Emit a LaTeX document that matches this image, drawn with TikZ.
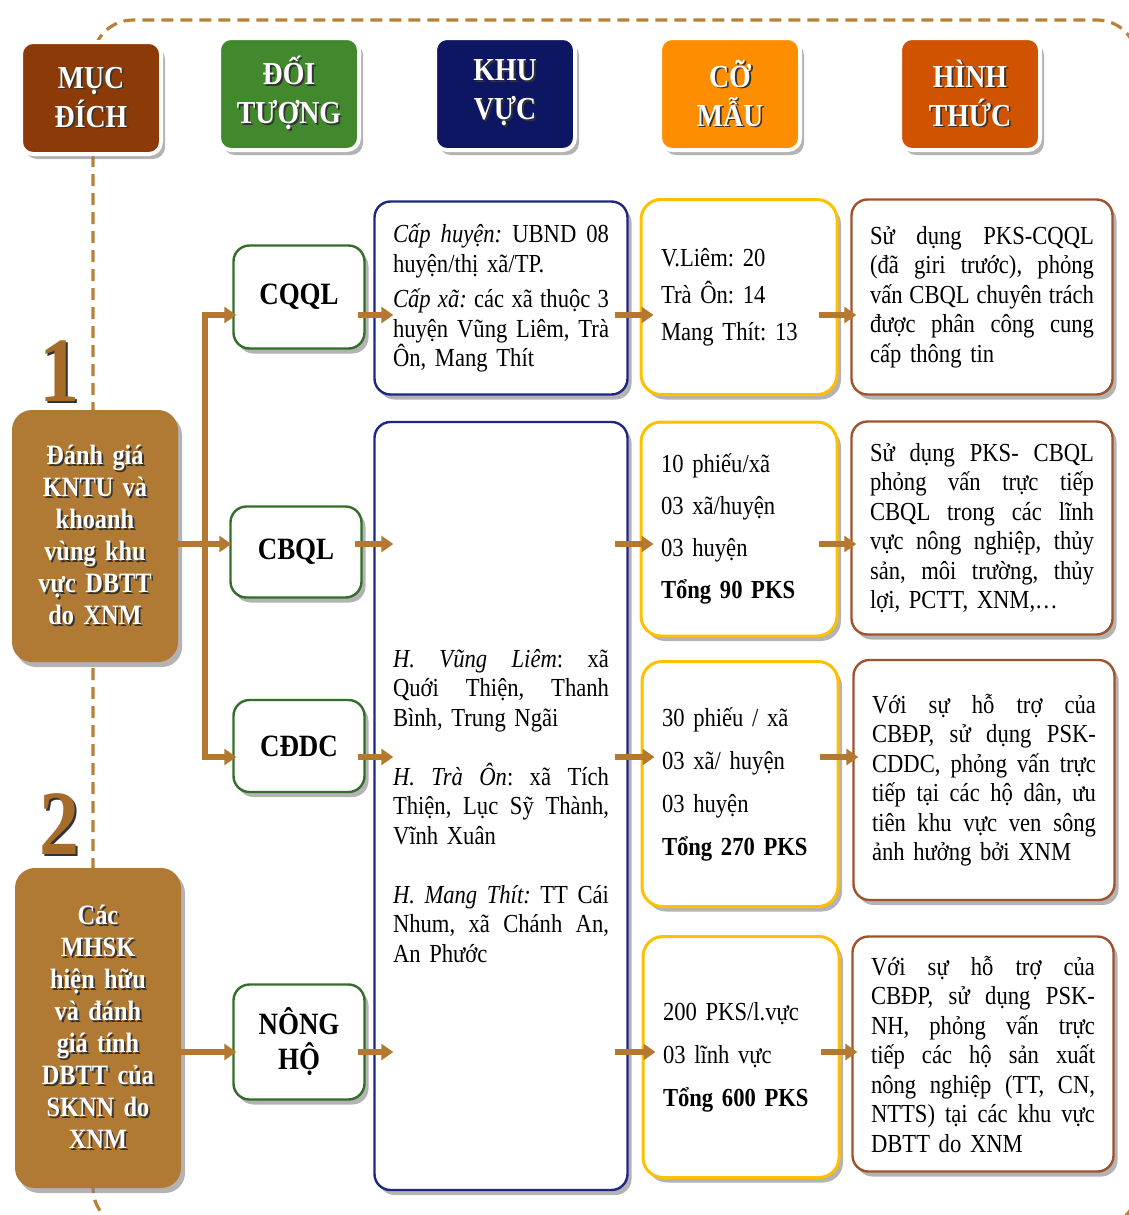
\documentclass[tikz,border=0pt]{standalone}
\usepackage{fontspec}
\setmainfont{Liberation Serif}[FakeStretch=0.87]
\usepackage{tikz}
\usetikzlibrary{positioning,shadows,arrows.meta}

\definecolor{mucc}{RGB}{140,58,8}
\definecolor{doic}{RGB}{66,137,46}
\definecolor{khuc}{RGB}{12,22,98}
\definecolor{coc}{RGB}{255,141,0}
\definecolor{hinhc}{RGB}{207,83,0}
\definecolor{goalc}{RGB}{176,121,52}
\definecolor{numc}{RGB}{165,108,42}
\definecolor{flowc}{RGB}{180,120,48}
\definecolor{framec}{RGB}{185,128,55}
\definecolor{objc}{RGB}{50,110,40}
\definecolor{regc}{RGB}{30,40,130}
\definecolor{sampc}{RGB}{255,192,0}
\definecolor{methc}{RGB}{160,82,45}

% justified line, white text with a dark shadow
\newcommand{\jl}[2][112pt]{\leavevmode\hbox to #1{\spaceskip=0.22em plus 1fil minus 0.04em\relax #2}}
\newcommand{\shtxt}[1]{\makebox[0pt][l]{\hspace{0.9pt}\raisebox{-0.9pt}{\color{black!80}#1}}#1}
\frenchspacing

\begin{document}
\begin{tikzpicture}[x=0.5pt, y=-0.5pt,
		boxshadow/.style={drop shadow={shadow xshift=2pt, shadow yshift=-2.5pt, opacity=0.6}},
		head/.style={draw=white, line width=2pt, text=white, font=\fontsize{16}{19.5}\selectfont\bfseries, align=center, minimum width=70pt, minimum height=56pt, rounded corners=6pt, boxshadow},
		goal/.style={fill=goalc, text=white, font=\fontsize{14}{16}\selectfont\bfseries, align=center, text width=76pt, minimum width=83pt, rounded corners=10pt, boxshadow},
		num/.style={text=numc, font=\fontsize{46}{46}\selectfont\bfseries},
		obj/.style={draw=objc, line width=1.2pt, fill=white, font=\fontsize{15.5}{17.5}\selectfont\bfseries, align=center, minimum width=65.5pt, rounded corners=8pt, boxshadow},
		reg/.style={draw=regc, line width=1.2pt, fill=white, font=\fontsize{13}{14.75}\selectfont, text width=108pt, minimum width=126.5pt, align=left, rounded corners=8pt, boxshadow},
		samp/.style={draw=sampc, line width=1.5pt, fill=white, font=\fontsize{13}{21.5}\selectfont, text width=78pt, minimum width=98pt, align=left, rounded corners=10pt, boxshadow},
		meth/.style={draw=methc, line width=1.2pt, fill=white, font=\fontsize{13}{14.75}\selectfont, text width=112pt, minimum width=130.5pt, align=left, rounded corners=8pt, boxshadow},
		frame/.style={draw=framec, line width=1.6pt, dash pattern=on 6pt off 3.5pt, rounded corners=20pt},
		line/.style={draw=flowc, line width=3pt},
		flow/.style={line, -{Triangle[length=6pt,width=8pt]}}]

	\useasboundingbox (0,0) rectangle (1129,1215);
	\draw[frame] (93,20) rectangle (1137,1228);

	% headers
	\node[head, fill=mucc] (hmuc) at (91,98) {\shtxt{MỤC}\\\shtxt{ĐÍCH}};
	\node[head, fill=doic] (hdoi) at (289,94) {\shtxt{ĐỐI}\\\shtxt{TƯỢNG}};
	\node[head, fill=khuc] (hkhu) at (505,94) {\shtxt{KHU}\\\shtxt{VỰC}};
	\node[head, fill=coc] (hco) at (730,94) {\shtxt{CỠ}\\\shtxt{MẪU}};
	\node[head, fill=hinhc] (hhinh) at (970,94) {\shtxt{HÌNH}\\\shtxt{THỨC}};

	% goals
	\node[num] (n1) at (60,372) {\shtxt{1}};
	\node[goal, minimum height=126pt] (g1) at (95,536) {\shtxt{Đánh giá}\\\shtxt{KNTU và}\\\shtxt{khoanh}\\\shtxt{vùng khu}\\\shtxt{vực DBTT}\\\shtxt{do XNM}};
	\node[num] (n2) at (60,825) {\shtxt{2}};
	\node[goal, minimum height=160pt] (g2) at (98,1028) {\shtxt{Các}\\\shtxt{MHSK}\\\shtxt{hiện hữu}\\\shtxt{và đánh}\\\shtxt{giá tính}\\\shtxt{DBTT của}\\\shtxt{SKNN do}\\\shtxt{XNM}};

	% objects
	\node[obj, minimum height=51.5pt] (cqql) at (299,297) {CQQL};
	\node[obj, minimum height=45.5pt] (cbql) at (296,552) {CBQL};
	\node[obj, minimum height=46pt] (cddc) at (299,746) {CĐDC};
	\node[obj, minimum height=57.5pt] (nongho) at (299,1042) {NÔNG\\HỘ};

	% regions
	\node[reg, minimum height=96.5pt] (reg1) at (501,298) {\jl[108pt]{\textit{Cấp huyện:} UBND 08}\\
		huyện/thị xã/TP.\\[3pt]
		\jl[108pt]{\textit{Cấp xã:} các xã thuộc 3}\\
		\jl[108pt]{huyện Vũng Liêm, Trà}\\
		Ôn, Mang Thít};
	\node[reg, minimum height=384pt] (reg2) at (501,806) {\jl[108pt]{\textit{H. Vũng Liêm}: xã}\\
		\jl[108pt]{Quới Thiện, Thanh}\\
		Bình, Trung Ngãi\\[14.75pt]
		\jl[108pt]{\textit{H. Trà Ôn}: xã Tích}\\
		\jl[108pt]{Thiện, Lục Sỹ Thành,}\\
		Vĩnh Xuân\\[14.75pt]
		\jl[108pt]{\textit{H. Mang Thít:} TT Cái}\\
		\jl[108pt]{Nhum, xã Chánh An,}\\
		An Phước};

	% samples
	\node[samp, minimum height=97.5pt, font=\fontsize{13}{18.5}\selectfont] (s1) at (739,297) {V.Liêm: 20\\Trà Ôn: 14\\Mang Thít: 13};
	\node[samp, minimum height=107pt, font=\fontsize{13}{21}\selectfont] (s2) at (739,529) {10 phiếu/xã\\03 xã/huyện\\03 huyện\\\textbf{Tổng 90 PKS}};
	\node[samp, minimum height=122.5pt] (s3) at (740,784) {30 phiếu / xã\\03 xã/ huyện\\03 huyện\\\textbf{Tổng 270 PKS}};
	\node[samp, minimum height=120.5pt] (s4) at (741,1057) {200 PKS/l.vực\\03 lĩnh vực\\\textbf{Tổng 600 PKS}};

	% methods
	\node[meth, minimum height=97.5pt] (m1) at (982,297) {\jl{Sử dụng PKS-CQQL}\\
		\jl{(đã giri trước), phỏng}\\
		\jl{vấn CBQL chuyên trách}\\
		\jl{được phân công cung}\\
		cấp thông tin};
	\node[meth, minimum height=106.5pt] (m2) at (982,528) {\jl{Sử dụng PKS- CBQL}\\
		\jl{phỏng vấn trực tiếp}\\
		\jl{CBQL trong các lĩnh}\\
		\jl{vực nông nghiệp, thủy}\\
		\jl{sản, môi trường, thủy}\\
		lợi, PCTT, XNM,…};
	\node[meth, minimum height=120pt] (m3) at (984,780) {\jl{Với sự hỗ trợ của}\\
		\jl{CBĐP, sử dụng PSK-}\\
		\jl{CDDC, phỏng vấn trực}\\
		\jl{tiếp tại các hộ dân, ưu}\\
		\jl{tiên khu vực ven sông}\\
		ảnh hưởng bởi XNM};
	\node[meth, minimum height=117.5pt] (m4) at (983,1054) {\jl{Với sự hỗ trợ của}\\
		\jl{CBĐP, sử dụng PSK-}\\
		\jl{NH, phỏng vấn trực}\\
		\jl{tiếp các hộ sản xuất}\\
		\jl{nông nghiệp (TT, CN,}\\
		\jl{NTTS) tại các khu vực}\\
		DBTT do XNM};

	% connectors
	\coordinate (tr) at (205,0);
	\coordinate (r1) at (0,315);
	\coordinate (r2) at (0,544);
	\coordinate (r3) at (0,757);
	\coordinate (r4) at (0,1052);

	\draw[line] (tr |- r1) -- (tr |- r3);
	\draw[flow] ([xshift=-1.5pt]tr |- r1) -- ([xshift=2pt]cqql.west |- r1);
	\draw[flow] (g1.east |- r2) -- ([xshift=1pt]cbql.west |- r2);
	\draw[flow] ([xshift=-1.5pt]tr |- r3) -- ([xshift=2pt]cddc.west |- r3);
	\draw[flow] (g2.east |- r4) -- ([xshift=2pt]nongho.west |- r4);

	\draw[flow] ([xshift=-4pt]cqql.east |- r1) -- ([xshift=10pt]reg1.west |- r1);
	\draw[flow] ([xshift=-4pt]cbql.east |- r2) -- ([xshift=10pt]reg2.west |- r2);
	\draw[flow] ([xshift=-4pt]cddc.east |- r3) -- ([xshift=10pt]reg2.west |- r3);
	\draw[flow] ([xshift=-4pt]nongho.east |- r4) -- ([xshift=10pt]reg2.west |- r4);

	\draw[flow] ([xshift=-7pt]reg1.east |- r1) -- ([xshift=7pt]s1.west |- r1);
	\draw[flow] ([xshift=-7pt]reg2.east |- r2) -- ([xshift=7pt]s2.west |- r2);
	\draw[flow] ([xshift=-7pt]reg2.east |- r3) -- ([xshift=7pt]s3.west |- r3);
	\draw[flow] ([xshift=-7pt]reg2.east |- r4) -- ([xshift=7pt]s4.west |- r4);

	\draw[flow] ([xshift=-10pt]s1.east |- r1) -- ([xshift=3pt]m1.west |- r1);
	\draw[flow] ([xshift=-10pt]s2.east |- r2) -- ([xshift=3pt]m2.west |- r2);
	\draw[flow] ([xshift=-10pt]s3.east |- r3) -- ([xshift=3pt]m3.west |- r3);
	\draw[flow] ([xshift=-10pt]s4.east |- r4) -- ([xshift=3pt]m4.west |- r4);

\end{tikzpicture}
\end{document}
